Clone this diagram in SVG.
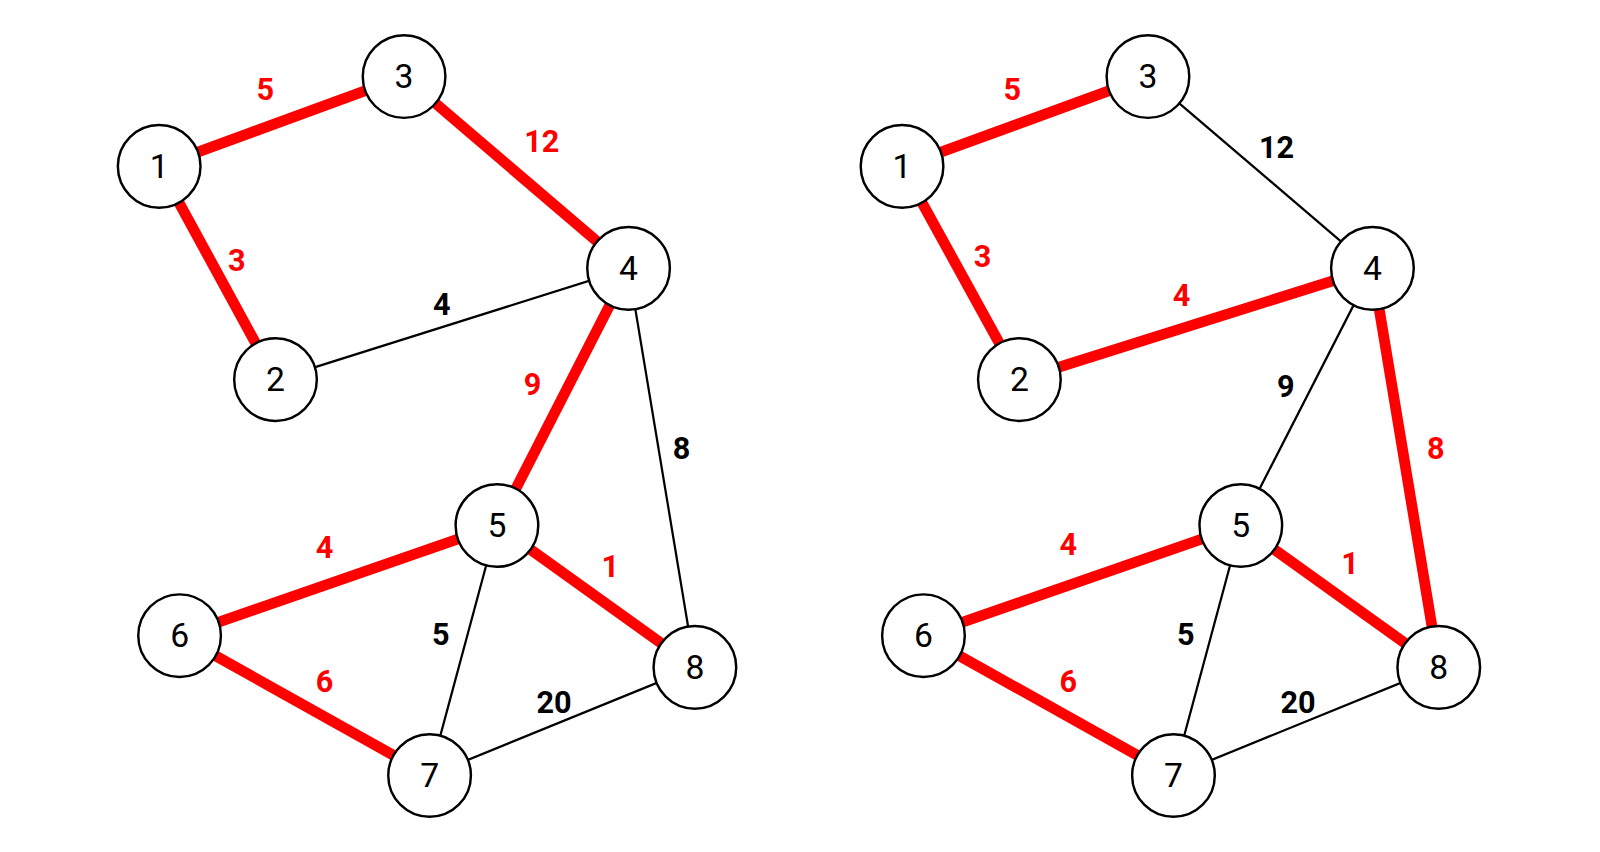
<svg xmlns="http://www.w3.org/2000/svg" width="1600" height="852" viewBox="0 0 1600 852">
<style>
.r{stroke:#ff0000;stroke-width:10.5}
.b{stroke:#000;stroke-width:2.2}
circle{fill:#fff;stroke:#000;stroke-width:2.4}
.n{font-family:Roboto,"Liberation Sans",sans-serif;font-size:33px;text-anchor:middle;dominant-baseline:central}
.l{font-family:Roboto,"Liberation Sans",sans-serif;font-size:30px;font-weight:bold;text-anchor:middle;dominant-baseline:central}
.lr{fill:#ff0000}
</style>
<rect width="1600" height="852" fill="#fff"/>
<g transform="scale(1.0204)">
<g id="connectors">
<line class="r" x1="156" y1="163" x2="396" y2="75"/>
<line class="r" x1="396" y1="75" x2="616" y2="263"/>
<line class="r" x1="156" y1="163" x2="270" y2="372"/>
<line class="b" x1="270" y1="372" x2="616" y2="263"/>
<line class="r" x1="616" y1="263" x2="487" y2="515"/>
<line class="b" x1="616" y1="263" x2="681" y2="654"/>
<line class="r" x1="487" y1="515" x2="176" y2="623"/>
<line class="r" x1="487" y1="515" x2="681" y2="654"/>
<line class="b" x1="487" y1="515" x2="421" y2="760"/>
<line class="r" x1="176" y1="623" x2="421" y2="760"/>
<line class="b" x1="421" y1="760" x2="681" y2="654"/>
<line class="r" x1="884" y1="163" x2="1125" y2="75"/>
<line class="b" x1="1125" y1="75" x2="1345" y2="263"/>
<line class="r" x1="884" y1="163" x2="999" y2="372"/>
<line class="r" x1="999" y1="372" x2="1345" y2="263"/>
<line class="b" x1="1345" y1="263" x2="1216" y2="515"/>
<line class="r" x1="1345" y1="263" x2="1410" y2="654"/>
<line class="r" x1="1216" y1="515" x2="905" y2="623"/>
<line class="r" x1="1216" y1="515" x2="1410" y2="654"/>
<line class="b" x1="1216" y1="515" x2="1150" y2="760"/>
<line class="r" x1="905" y1="623" x2="1150" y2="760"/>
<line class="b" x1="1150" y1="760" x2="1410" y2="654"/>
</g>
<g id="labels">
<text class="l lr" x="260" y="88">5</text>
<text class="l lr" x="531" y="139">12</text>
<text class="l lr" x="232" y="255">3</text>
<text class="l" x="433" y="298">4</text>
<text class="l lr" x="522" y="377">9</text>
<text class="l" x="668" y="440">8</text>
<text class="l lr" x="318" y="537">4</text>
<text class="l lr" x="598" y="555">1</text>
<text class="l" x="432" y="622">5</text>
<text class="l lr" x="318" y="668">6</text>
<text class="l" x="543" y="688">20</text>
<text class="l lr" x="992" y="88">5</text>
<text class="l" x="1251" y="145">12</text>
<text class="l lr" x="963" y="251">3</text>
<text class="l lr" x="1158" y="290">4</text>
<text class="l" x="1260" y="379">9</text>
<text class="l lr" x="1407" y="440">8</text>
<text class="l lr" x="1047" y="534">4</text>
<text class="l lr" x="1323" y="552">1</text>
<text class="l" x="1162" y="622">5</text>
<text class="l lr" x="1047" y="668">6</text>
<text class="l" x="1272" y="688">20</text>
</g>
<g id="L1"><circle cx="156" cy="163" r="40.5"/><text class="n" x="156" y="163">1</text></g>
<g id="L2"><circle cx="270" cy="372" r="40.5"/><text class="n" x="270" y="372">2</text></g>
<g id="L3"><circle cx="396" cy="75" r="40.5"/><text class="n" x="396" y="75">3</text></g>
<g id="L4"><circle cx="616" cy="263" r="40.5"/><text class="n" x="616" y="263">4</text></g>
<g id="L5"><circle cx="487" cy="515" r="40.5"/><text class="n" x="487" y="515">5</text></g>
<g id="L6"><circle cx="176" cy="623" r="40.5"/><text class="n" x="176" y="623">6</text></g>
<g id="L7"><circle cx="421" cy="760" r="40.5"/><text class="n" x="421" y="760">7</text></g>
<g id="L8"><circle cx="681" cy="654" r="40.5"/><text class="n" x="681" y="654">8</text></g>
<g id="R1"><circle cx="884" cy="163" r="40.5"/><text class="n" x="884" y="163">1</text></g>
<g id="R2"><circle cx="999" cy="372" r="40.5"/><text class="n" x="999" y="372">2</text></g>
<g id="R3"><circle cx="1125" cy="75" r="40.5"/><text class="n" x="1125" y="75">3</text></g>
<g id="R4"><circle cx="1345" cy="263" r="40.5"/><text class="n" x="1345" y="263">4</text></g>
<g id="R5"><circle cx="1216" cy="515" r="40.5"/><text class="n" x="1216" y="515">5</text></g>
<g id="R6"><circle cx="905" cy="623" r="40.5"/><text class="n" x="905" y="623">6</text></g>
<g id="R7"><circle cx="1150" cy="760" r="40.5"/><text class="n" x="1150" y="760">7</text></g>
<g id="R8"><circle cx="1410" cy="654" r="40.5"/><text class="n" x="1410" y="654">8</text></g>
</g>
</svg>
